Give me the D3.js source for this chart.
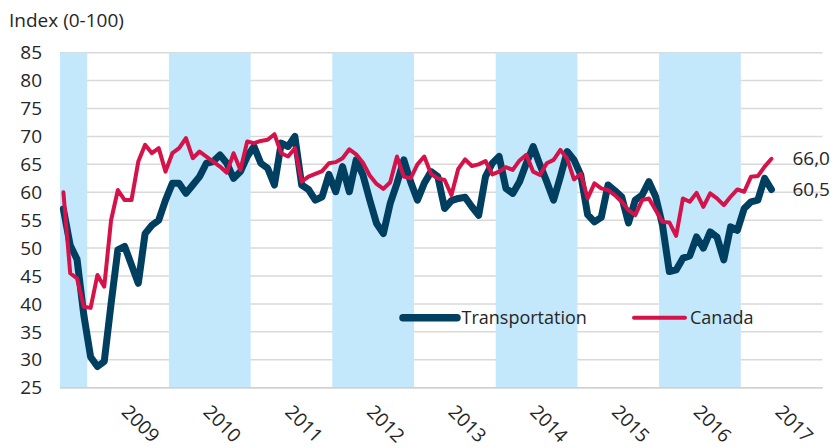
<!DOCTYPE html>
<html>
<head>
<meta charset="utf-8">
<script src="https://cdn.jsdelivr.net/npm/d3@7"></script>
<style>
  html, body { margin: 0; padding: 0; background: #fff; }
  svg { display: block; font-family: "Open Sans", "Noto Sans", sans-serif; }
</style>
</head>
<body>
<svg id="chart" width="834" height="448"></svg>
<script>
// ---- Data (monthly, Sep 2008 .. May 2017) ----
const startYear = 2008, startMonth = 9; // September 2008
const transportation = [
  57, 50.5, 48, 38,
  30.5, 28.8, 29.7, 40, 49.7, 50.3, 47, 43.7, 52.6, 54.1, 55, 58.6,
  61.6, 61.6, 59.8, 61.3, 62.8, 65.2, 65.5, 66.7, 65.2, 62.5, 63.7, 66.4,
  68.2, 65.2, 64.3, 61.3, 68.8, 68.2, 70, 61.3, 60.5, 58.6, 59.2, 63.2,
  60.1, 64.6, 60.1, 65.8, 63.1, 58.6, 54.4, 52.6, 58, 61.6, 65.8, 61.9,
  58.6, 61.6, 63.7, 62.8, 57.1, 58.5, 58.9, 59.1, 57.4, 55.9, 62.8, 65.2,
  66.4, 60.7, 59.8, 61.9, 65.2, 68.2, 64.9, 61.9, 58.6, 62.8, 67.3, 65.8,
  63.1, 56, 54.7, 55.5, 61.3, 60.3, 59.2, 54.5, 58.6, 59.5, 61.9, 59.2,
  54.1, 45.8, 46.1, 48.2, 48.6, 52, 50, 52.9, 52, 47.9, 53.8, 53.2,
  57.1, 58.3, 58.6, 62.5, 60.5
];
const canada = [
  60, 45.5, 44.6, 39.5,
  39.3, 45.2, 43.1, 55, 60.4, 58.6, 58.6, 65.5, 68.5, 67, 67.9, 63.7,
  67, 67.9, 69.7, 66.1, 67.3, 66.4, 65.5, 64.6, 63.5, 67, 64, 69.1,
  68.8, 69.2, 69.4, 70.4, 67, 66.4, 67.9, 61.9, 62.8, 63.3, 63.8, 65.2,
  65.4, 66.1, 67.7, 66.8, 65.3, 63, 61.5, 60.6, 61.8, 66.4, 62.8, 62.5,
  65, 66.4, 63.3, 62.5, 62.2, 59.5, 64.2, 65.9, 64.7, 65, 65.6, 63.2,
  63.7, 64.5, 64, 65.7, 66.7, 63.7, 63.1, 65.2, 65.8, 67.6, 66, 62.3,
  63.3, 58.9, 61.6, 60.7, 60.4, 59.5, 58.3, 56.8, 55.9, 58.6, 58.9, 56.8,
  54.7, 54.6, 52.2, 58.9, 58.3, 59.9, 57.4, 59.8, 58.9, 57.7, 59.2, 60.5,
  60.1, 62.8, 62.9, 64.6, 66.0
];
const yearLabels = ["2009","2010","2011","2012","2013","2014","2015","2016","2017"];
const shadedYears = [2008, 2010, 2012, 2014, 2016];
const yTicks = [25, 30, 35, 40, 45, 50, 55, 60, 65, 70, 75, 80, 85];
const seriesNames = ["Transportation", "Canada"];
const endLabels = ["60,5", "66,0"];
const colors = { Transportation: "#003f5f", Canada: "#d5134a" };

// ---- Scales ----
const svg = d3.select("#chart");
const pL = 60, pR = 822.5, pT = 52.7, pB = 387.7;
// month index: 0 = start of Sep 2008; 112 = start of Jan 2018
const monthIdx = (yr, m) => (yr - startYear) * 12 + (m - startMonth);
const x = d3.scaleLinear().domain([0, monthIdx(2018, 1)]).range([pL, pR]);
const y = d3.scaleLinear().domain([25, 85]).range([pB, pT]);

// ---- Gridlines ----
svg.append("g").selectAll("line").data(yTicks).join("line")
  .attr("x1", pL).attr("x2", pR)
  .attr("y1", d => y(d)).attr("y2", d => y(d))
  .attr("stroke", "#d9d9d9").attr("stroke-width", 1.5);

// ---- Shaded bands ----
svg.append("g").selectAll("rect").data(shadedYears).join("rect")
  .attr("x", d => x(Math.max(0, monthIdx(d, 1))))
  .attr("width", d => x(monthIdx(d + 1, 1)) - x(Math.max(0, monthIdx(d, 1))))
  .attr("y", pT).attr("height", pB - pT)
  .attr("fill", "#c3e7fb");

// bottom axis line
svg.append("line").attr("x1", pL).attr("x2", pR)
  .attr("y1", pB).attr("y2", pB)
  .attr("stroke", "#d0d0d0").attr("stroke-width", 1.5);

// ---- Y axis labels ----
svg.append("g").selectAll("text").data(yTicks).join("text")
  .attr("x", 42).attr("y", d => y(d)).attr("dy", "0.35em")
  .attr("text-anchor", "end").attr("font-size", 19).attr("fill", "#262626")
  .text(d => d);

svg.append("text").attr("x", 9).attr("y", 27)
  .attr("font-size", 19).attr("fill", "#262626").text("Index (0-100)");

// ---- X axis labels (rotated) ----
svg.append("g").selectAll("text").data(yearLabels).join("text")
  .attr("transform", d => {
    const cx = x(monthIdx(+d, 1) + 6) - 7.5;
    return `translate(${cx},413) rotate(45)`;
  })
  .attr("font-size", 19).attr("fill", "#262626")
  .text(d => d);

// ---- Lines ----
const line = d3.line()
  .x((d, i) => x(i + 0.5))
  .y(d => y(d));

svg.append("path").datum(transportation)
  .attr("d", line).attr("fill", "none")
  .attr("stroke", colors.Transportation).attr("stroke-width", 7)
  .attr("stroke-linejoin", "round").attr("stroke-linecap", "round");

svg.append("path").datum(canada)
  .attr("d", line).attr("fill", "none")
  .attr("stroke", colors.Canada).attr("stroke-width", 4)
  .attr("stroke-linejoin", "round").attr("stroke-linecap", "round");

// ---- End labels ----
const lastIdx = transportation.length - 1;
[[transportation, endLabels[0]], [canada, endLabels[1]]].forEach(([s, lab]) => {
  svg.append("text")
    .attr("x", x(lastIdx + 0.5) + 21).attr("y", y(s[lastIdx])).attr("dy", "0.35em")
    .attr("font-size", 19).attr("fill", "#262626").text(lab);
});

// ---- Legend ----
const legend = [
  { name: seriesNames[0], x1: 403, x2: 457, tx: 461.5, w: 7.5 },
  { name: seriesNames[1], x1: 634, x2: 685, tx: 690, w: 4 }
];
const ly = 317.7;
legend.forEach(l => {
  svg.append("line").attr("x1", l.x1).attr("x2", l.x2).attr("y1", ly).attr("y2", ly)
    .attr("stroke", colors[l.name]).attr("stroke-width", l.w).attr("stroke-linecap", "round");
  svg.append("text").attr("x", l.tx).attr("y", ly).attr("dy", "0.35em")
    .attr("font-size", 18).attr("fill", "#262626").text(l.name);
});
</script>
</body>
</html>
